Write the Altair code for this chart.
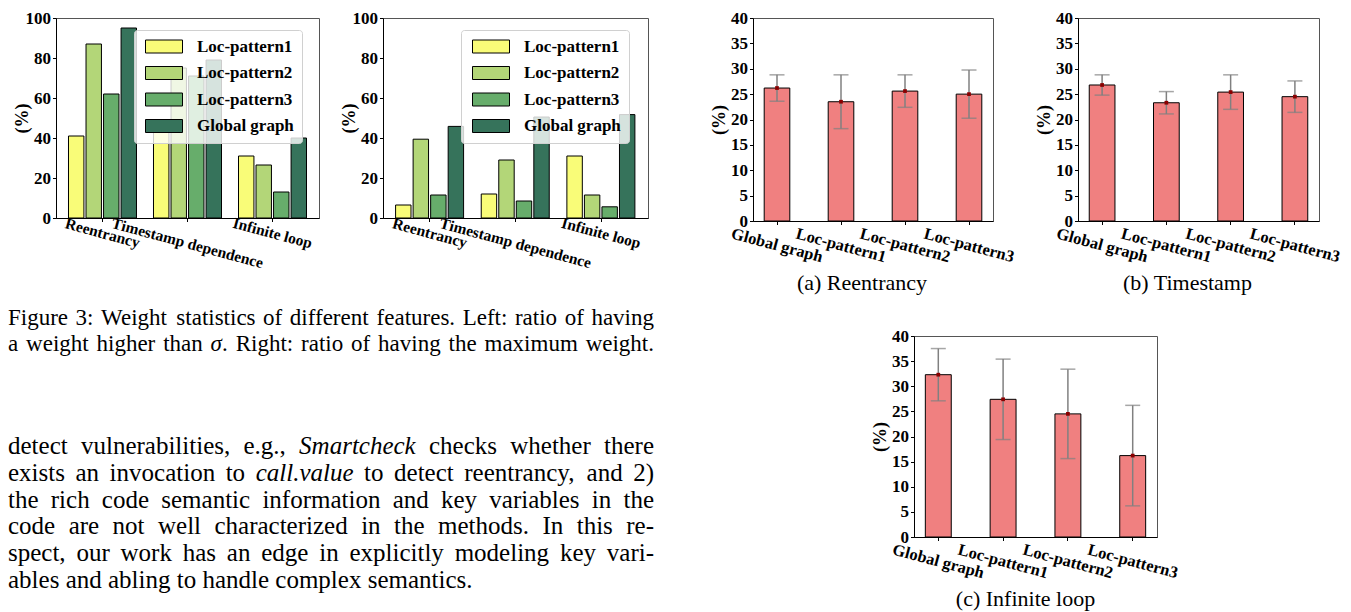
import altair as alt
import pandas as pd
import math

FONT = "Liberation Serif"

# ---------------- data ----------------
categories = ["Reentrancy", "Timestamp dependence", "Infinite loop"]
patterns = ["Loc-pattern1", "Loc-pattern2", "Loc-pattern3", "Global graph"]
pattern_colors = ["#f9fc78", "#b3d678", "#67ad6b", "#36735b"]

# Left: ratio of having a weight higher than sigma (per category)
left_lp1 = [41, 48, 31]
left_lp2 = [87, 75, 26.5]
left_lp3 = [62, 71, 13]
left_gg = [95, 79, 40]
# Right: ratio of having the maximum weight
right_lp1 = [6.5, 12, 31]
right_lp2 = [39.4, 29, 11.5]
right_lp3 = [11.5, 8.5, 5.6]
right_gg = [45.8, 50.5, 51.7]

features = ["Global graph", "Loc-pattern1", "Loc-pattern2", "Loc-pattern3"]
reen_mean = [26.2, 23.5, 25.6, 25.0]
reen_std = [2.6, 5.3, 3.2, 4.75]
time_mean = [26.8, 23.3, 25.4, 24.5]
time_std = [2.0, 2.2, 3.4, 3.1]
loop_mean = [32.3, 27.4, 24.5, 16.2]
loop_std = [5.2, 8.0, 8.9, 10.0]

caption_lines = [
    "Figure 3: Weight statistics of different features. Left: ratio of having",
    "a weight higher than _σ_. Right: ratio of having the maximum weight.",
]
body_lines = [
    "detect vulnerabilities, e.g., _Smartcheck_ checks whether there",
    "exists an invocation to _call.value_ to detect reentrancy, and 2)",
    "the rich code semantic information and key variables in the",
    "code are not well characterized in the methods. In this re-",
    "spect, our work has an edge in explicitly modeling key vari-",
    "ables and abling to handle complex semantics.",
]

# ---------------- font metrics (Times / Liberation Serif, per 1000 em) ----------------
REG = dict(zip("abcdefghijklmnopqrstuvwxyz",
               [444, 500, 444, 500, 444, 333, 500, 500, 278, 278, 500, 278, 778,
                500, 500, 500, 500, 333, 389, 278, 500, 500, 722, 500, 500, 444]))
REG.update({" ": 250, ",": 250, ".": 250, ":": 278, "(": 333, ")": 333, "-": 333,
            "2": 500, "3": 500, "F": 556, "W": 944, "L": 611, "R": 667, "I": 333, "S": 556})
ITA = dict(zip("abcdefghijklmnopqrstuvwxyz",
               [500, 500, 444, 500, 444, 278, 500, 500, 278, 278, 444, 278, 722,
                500, 500, 500, 500, 389, 389, 278, 500, 444, 667, 444, 444, 389]))
ITA.update({" ": 250, ".": 250, "S": 500, "σ": 500})
BOLD = dict(zip("abcdefghijklmnopqrstuvwxyz",
                [500, 556, 444, 556, 444, 333, 500, 556, 278, 333, 556, 278, 833,
                 556, 500, 556, 556, 444, 389, 333, 556, 500, 722, 500, 500, 444]))
BOLD.update({" ": 250, "-": 333, "1": 500, "2": 500, "3": 500, "G": 778, "I": 389,
             "L": 667, "R": 722, "T": 667})


def tw(s, table, size):
    return sum(table.get(ch, 500) for ch in s) * size / 1000.0


def layout_text(lines, size, x0, y0, pitch, width, n_justified):
    rows = []
    for li, line in enumerate(lines):
        words = []
        for w in line.split():
            runs = []
            for k, p in enumerate(w.split("_")):
                if p:
                    runs.append((p, k % 2 == 1))
            words.append(runs)
        wlen = [sum(tw(t, ITA if it else REG, size) for t, it in runs) for runs in words]
        space = 250 * size / 1000.0
        natural = sum(wlen) + space * (len(words) - 1)
        gap = space
        if li < n_justified and len(words) > 1:
            gap = space + (width - natural) / (len(words) - 1)
        x = x0
        y = y0 + li * pitch
        for runs, wl in zip(words, wlen):
            xx = x
            for t, it in runs:
                rows.append({"x": xx, "y": y, "t": t, "s": "italic" if it else "normal", "fs": size})
                xx += tw(t, ITA if it else REG, size)
            x += wl + gap
    return rows


ANG = 15.0
SIN, COS = math.sin(math.radians(ANG)), math.cos(math.radians(ANG))


def label_pad(label, fs, gap, tick=3.5):
    w = tw(label, BOLD, fs)
    return gap + (w * SIN + fs * COS) / 2.0 - tick


SYMBOL = "M-1,-1.3L6.4,-1.3L6.4,1.3L-1,1.3Z"


def y_axis(values):
    return alt.Axis(values=values, title="(%)", titleFontSize=18, titleFontWeight="bold",
                    titlePadding=0, minExtent=25, maxExtent=25, labelFontSize=17,
                    labelFontWeight="bold", tickSize=3.5, labelPadding=2, grid=False)


def grouped_chart(series, width, height, legend_x, legend_y):
    rows = []
    for p, vals in zip(patterns, series):
        for c, v in zip(categories, vals):
            rows.append({"category": c, "pattern": p, "value": v})
    df = pd.DataFrame(rows)
    fs = 15.5
    pad_ts = label_pad("Timestamp dependence", fs, -3)
    pad_other = (label_pad("Reentrancy", fs, -3) + label_pad("Infinite loop", fs, -3)) / 2
    x_axis = alt.Axis(title=None, labelAngle=ANG, labelAlign="center", labelBaseline="middle",
                      labelPadding={"condition": {"test": "datum.value === 'Timestamp dependence'",
                                                  "value": pad_ts}, "value": pad_other},
                      labelFontSize=fs, labelFontWeight="bold", labelOverlap=False, labelLimit=400,
                      labelBound=False, tickSize=3.5)
    legend = alt.Legend(orient="none", legendX=legend_x, legendY=legend_y, labelFont=FONT,
                        labelFontWeight="bold", labelFontSize=17, labelColor="black",
                        symbolType=SYMBOL, symbolSize=100, symbolStrokeColor="black",
                        symbolStrokeWidth=1, symbolOpacity=1, labelOffset=38, rowPadding=8.5,
                        padding=8, fillColor="rgba(255,255,255,0.8)", strokeColor="#d0d0d0",
                        cornerRadius=3, labelLimit=300)
    return alt.Chart(df).mark_bar(stroke="black", strokeWidth=1, opacity=1).encode(
        x=alt.X("category:N", sort=categories,
                scale=alt.Scale(paddingInner=0.2, paddingOuter=0.147), axis=x_axis),
        xOffset=alt.XOffset("pattern:N", sort=patterns,
                            scale=alt.Scale(paddingInner=0.12, paddingOuter=0)),
        y=alt.Y("value:Q", scale=alt.Scale(domain=[0, 100]), axis=y_axis([0, 20, 40, 60, 80, 100])),
        color=alt.Color("pattern:N", sort=patterns,
                        scale=alt.Scale(domain=patterns, range=pattern_colors),
                        legend=legend, title=None),
    ).properties(width=width, height=height)


def error_chart(means, stds, caption, width, height, dx):
    df = pd.DataFrame({"feature": features, "mean": means, "std": stds})
    base = alt.Chart(df).transform_calculate(lo="datum.mean - datum.std",
                                             hi="datum.mean + datum.std")
    fs = 16.5
    pad = sum(label_pad(f, fs, 4) for f in features) / len(features)
    x_axis = alt.Axis(title=None, labelAngle=ANG, labelAlign="center", labelBaseline="middle",
                      labelPadding=pad, labelFontSize=fs, labelFontWeight="bold",
                      labelOverlap=False, labelLimit=400, labelBound=False, tickSize=3.5)
    x = alt.X("feature:N", sort=features,
              scale=alt.Scale(paddingInner=0.6, paddingOuter=0.175), axis=x_axis)
    ysc = alt.Scale(domain=[0, 40])
    yax = y_axis([0, 5, 10, 15, 20, 25, 30, 35, 40])

    def Y(f):
        return alt.Y(f, scale=ysc, axis=yax, title="(%)")

    bars = base.mark_bar(color="#f08080", stroke="black", strokeWidth=1).encode(x=x, y=Y("mean:Q"))
    rule = base.mark_rule(color="#808080", strokeWidth=1.5).encode(x=x, y=Y("lo:Q"), y2="hi:Q")
    cap_lo = base.mark_tick(color="#808080", thickness=1.5, size=15).encode(x=x, y=Y("lo:Q"))
    cap_hi = base.mark_tick(color="#808080", thickness=1.5, size=15).encode(x=x, y=Y("hi:Q"))
    pts = base.mark_square(size=14, color="#8b0000", opacity=1).encode(x=x, y=Y("mean:Q"))
    return alt.layer(bars, rule, cap_lo, cap_hi, pts).properties(
        width=width, height=height,
        title=alt.TitleParams(text=caption, orient="bottom", font=FONT, fontSize=22,
                              fontWeight="normal", color="black", dx=dx, offset=8,
                              anchor="middle"))


def spacer(w, h):
    return alt.Chart(pd.DataFrame({"v": [0]})).mark_point(opacity=0).encode(
        x=alt.value(0), y=alt.value(0)
    ).properties(width=w, height=h, view=alt.ViewBackground(strokeOpacity=0))


c1 = grouped_chart([left_lp1, left_lp2, left_lp3, left_gg], 263, 200, 78, 12)
c2 = grouped_chart([right_lp1, right_lp2, right_lp3, right_gg], 265, 200, 78, 12)
ca = error_chart(reen_mean, reen_std, "(a) Reentrancy", 240, 203, -11)
cb = error_chart(time_mean, time_std, "(b) Timestamp", 241, 203, -11)
cc = error_chart(loop_mean, loop_std, "(c) Infinite loop", 243, 201, -10)

# paragraph text (text block's top edge sits 203px below the top plots' top edge)
text_rows = layout_text(caption_lines, 23, -48, 104, 26, 646, 2)
text_rows += layout_text(body_lines, 25, -48, 233, 26.8, 646, 5)
tdf = pd.DataFrame(text_rows)
tbase = alt.Chart(tdf)
t_reg = tbase.transform_filter(alt.datum.s == "normal").mark_text(
    font=FONT, align="left", baseline="alphabetic", color="black"
).encode(x=alt.X("x:Q", scale=None, axis=None), y=alt.Y("y:Q", scale=None, axis=None),
         text="t:N", size=alt.Size("fs:Q", scale=None, legend=None))
t_ita = tbase.transform_filter(alt.datum.s == "italic").mark_text(
    font=FONT, align="left", baseline="alphabetic", color="black", fontStyle="italic"
).encode(x=alt.X("x:Q", scale=None, axis=None), y=alt.Y("y:Q", scale=None, axis=None),
         text="t:N", size=alt.Size("fs:Q", scale=None, legend=None))
text_chart = alt.layer(t_reg, t_ita).properties(
    width=858, height=384, view=alt.ViewBackground(strokeOpacity=0))

top = alt.hconcat(c1, spacer(64, 1), c2, spacer(105, 1), ca, spacer(85, 1), cb,
                  spacing=0, bounds="flush").resolve_scale(color="independent")
bottom = alt.hconcat(text_chart,
                     alt.vconcat(spacer(243, 115), cc, spacing=0, bounds="flush"),
                     spacing=0, bounds="flush")
# a nested flush concat counts as zero-height, so the spacing sets the second row's offset
chart = alt.vconcat(top, bottom, spacing=203, bounds="flush").properties(
    padding={"left": 0, "top": 0, "right": 0, "bottom": 0}, background="white"
).configure_axis(
    labelFont=FONT, titleFont=FONT, labelColor="black", titleColor="black",
    tickColor="black", domainColor="black", tickWidth=1, domainWidth=1, grid=False
).configure_view(stroke="#555555", strokeWidth=1)

chart.save("out.html", embed_options={"renderer": "svg", "actions": False})
